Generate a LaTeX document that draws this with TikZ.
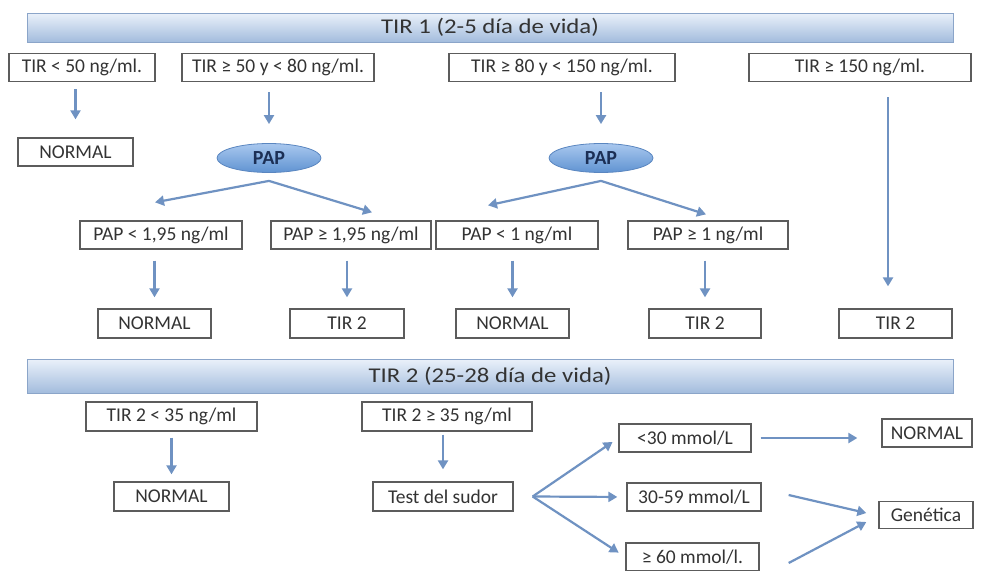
\documentclass[tikz,border=0pt]{standalone}
\usepackage{fontspec}
\setmainfont{Carlito}
\newfontfamily\bannerfont{Carlito}[FakeStretch=1.18]
\usetikzlibrary{arrows.meta, shapes.geometric, calc}
\definecolor{arrblue}{HTML}{6F92C2}
\definecolor{boxgray}{HTML}{5C5C5C}
\definecolor{txtgray}{HTML}{333333}
\definecolor{bantop}{HTML}{EAF1FA}
\definecolor{banbot}{HTML}{A3BCDD}
\definecolor{banline}{HTML}{8BA5C9}
\definecolor{paptop}{HTML}{A9C8EE}
\definecolor{papbot}{HTML}{6093D2}
\definecolor{papline}{HTML}{5A86C0}
\definecolor{papnavy}{HTML}{1C2F55}

\begin{document}
\begin{tikzpicture}[x=1pt, y=-1pt,
    box/.style={draw=boxgray, line width=1.3pt, fill=white, text=txtgray,
        font=\fontsize{19.5}{21}\selectfont, inner sep=0pt, minimum height=28pt},
    oval/.style={ellipse, draw=papline, line width=0.8pt, top color=paptop, bottom color=papbot,
        text=papnavy, font=\bfseries\fontsize{20}{22}\selectfont, inner sep=0pt,
        minimum width=104pt, minimum height=29pt},
    banner/.style={draw=banline, line width=1pt, top color=bantop, bottom color=banbot,
        text=txtgray, font={\bannerfont\fontsize{21}{24}\selectfont}, inner sep=0pt,
        minimum width=926pt},
    arr/.style={draw=arrblue, line width=2.2pt, -{Triangle[length=9pt, width=10pt]}}]
            \clip (0, 0) rectangle (982, 570);
            \fill[white] (0, 0) rectangle (982, 570);
            \node[banner, minimum height=29pt](ban1) at (490, 27.5) {TIR 1 (2-5 día de vida)};
            \node[box, minimum width=146pt](tA) at (82, 67.5) {TIR < 50 ng/ml.};
            \node[box, minimum width=192pt](tB) at (278, 67.5) {TIR ≥ 50 y < 80 ng/ml.};
            \node[box, minimum width=226pt](tC) at (562, 67.5) {TIR ≥ 80 y < 150 ng/ml.};
            \node[box, minimum width=222pt](tD) at (860, 67.5) {TIR ≥ 150 ng/ml.};
            \node[box, minimum width=115pt](nA) at (75.5, 152) {NORMAL};
            \node[oval](pap1) at (269, 158) {PAP};
            \node[oval](pap2) at (601, 158) {PAP};
            \draw[arr, shorten <=7pt, shorten >=18pt] (nA |- tA.south) -- (nA.north);
            \draw[arr, shorten <=10pt, shorten >=19pt] (pap1 |- tB.south) -- (pap1.north);
            \draw[arr, shorten <=10pt, shorten >=19pt] (pap2 |- tC.south) -- (pap2.north);
            \node[box, minimum width=162pt](pA) at (161, 235) {PAP < 1,95 ng/ml};
            \node[box, minimum width=160pt](pB) at (351, 235) {PAP ≥ 1,95 ng/ml};
            \node[box, minimum width=162pt](pC) at (517, 235) {PAP < 1 ng/ml};
            \node[box, minimum width=160pt](pD) at (708, 235) {PAP ≥ 1 ng/ml};
            \draw[arr] ([yshift=-8pt]pap1.south) -- ([xshift=-6pt, yshift=18pt]pA.north);
            \draw[arr] ([yshift=-8pt]pap1.south) -- ([xshift=21pt, yshift=8pt]pB.north);
            \draw[arr] ([yshift=-8pt]pap2.south) -- ([xshift=-29pt, yshift=15pt]pC.north);
            \draw[arr] ([yshift=-8pt]pap2.south) -- ([xshift=-2pt, yshift=6pt]pD.north);
            \node[box, minimum width=113pt, minimum height=29pt](nB) at (154.5, 323.5) {NORMAL};
            \node[box, minimum width=114pt, minimum height=29pt](sB) at (347, 323.5) {TIR 2};
            \node[box, minimum width=113pt, minimum height=29pt](nC) at (512.5, 323.5) {NORMAL};
            \node[box, minimum width=112pt, minimum height=29pt](sC) at (705, 323.5) {TIR 2};
            \node[box, minimum width=113pt, minimum height=29pt](sD) at (895.5, 323.5) {TIR 2};
            \draw[arr, shorten <=11pt, shorten >=11pt] (nB |- pA.south) -- (nB.north);
            \draw[arr, shorten <=11pt, shorten >=11pt] (sB |- pB.south) -- (sB.north);
            \draw[arr, shorten <=11pt, shorten >=11pt] (nC |- pC.south) -- (nC.north);
            \draw[arr, shorten <=11pt, shorten >=11pt] (sC |- pD.south) -- (sC.north);
            \draw[arr, shorten <=15pt, shorten >=22pt] ($(sD.north |- tD.south)+(-7.5, 0)$) -- ($(sD.north)+(-7.5, 0)$);
            \node[banner, minimum height=34pt](ban2) at (490, 376) {TIR 2 (25-28 día de vida)};
            \node[box, minimum width=171pt, minimum height=29pt](uA) at (171.5, 416.5) {TIR 2 < 35 ng/ml};
            \node[box, minimum width=170pt, minimum height=29pt](uB) at (447, 416.5) {TIR 2 ≥ 35 ng/ml};
            \node[box, minimum width=115pt, minimum height=29pt](nD) at (171.5, 496.5) {NORMAL};
            \node[box, minimum width=140pt, minimum height=29pt](sud) at (443, 496.5) {Test del sudor};
            \draw[arr, shorten <=6pt, shorten >=7pt] (nD |- uA.south) -- (nD.north);
            \draw[arr, shorten <=3pt, shorten >=12pt] (sud |- uB.south) -- (sud.north);
            \node[box, minimum width=132pt](c30) at (685, 438) {<30 mmol/L};
            \node[box, minimum width=134pt](c3059) at (694, 497) {30-59 mmol/L};
            \node[box, minimum width=133pt](c60) at (692.5, 557) {≥ 60 mmol/l.};
            \node[box, minimum width=90pt](nR) at (927, 433) {NORMAL};
            \node[box, minimum width=94pt, minimum height=27pt](gen) at (926, 515) {Genética};
            \draw[arr, shorten >=7pt] ([xshift=19pt]sud.east) -- (c30.west);
            \draw[arr, shorten >=9pt] ([xshift=19pt]sud.east) -- (c3059.west);
            \draw[arr, shorten >=8pt] ([xshift=19pt]sud.east) -- (c60.west);
            \draw[arr, shorten <=9pt, shorten >=24pt] (c30.east) -- (c30.east -| nR.west);
            \draw[arr] ([xshift=27pt, yshift=2pt]c3059.east) -- ([xshift=-12pt, yshift=2pt]gen.west);
            \draw[arr] ([xshift=29pt, yshift=-6pt]c60.east) -- ([xshift=-12pt, yshift=-7pt]gen.west);
        \end{tikzpicture}
\end{document}
